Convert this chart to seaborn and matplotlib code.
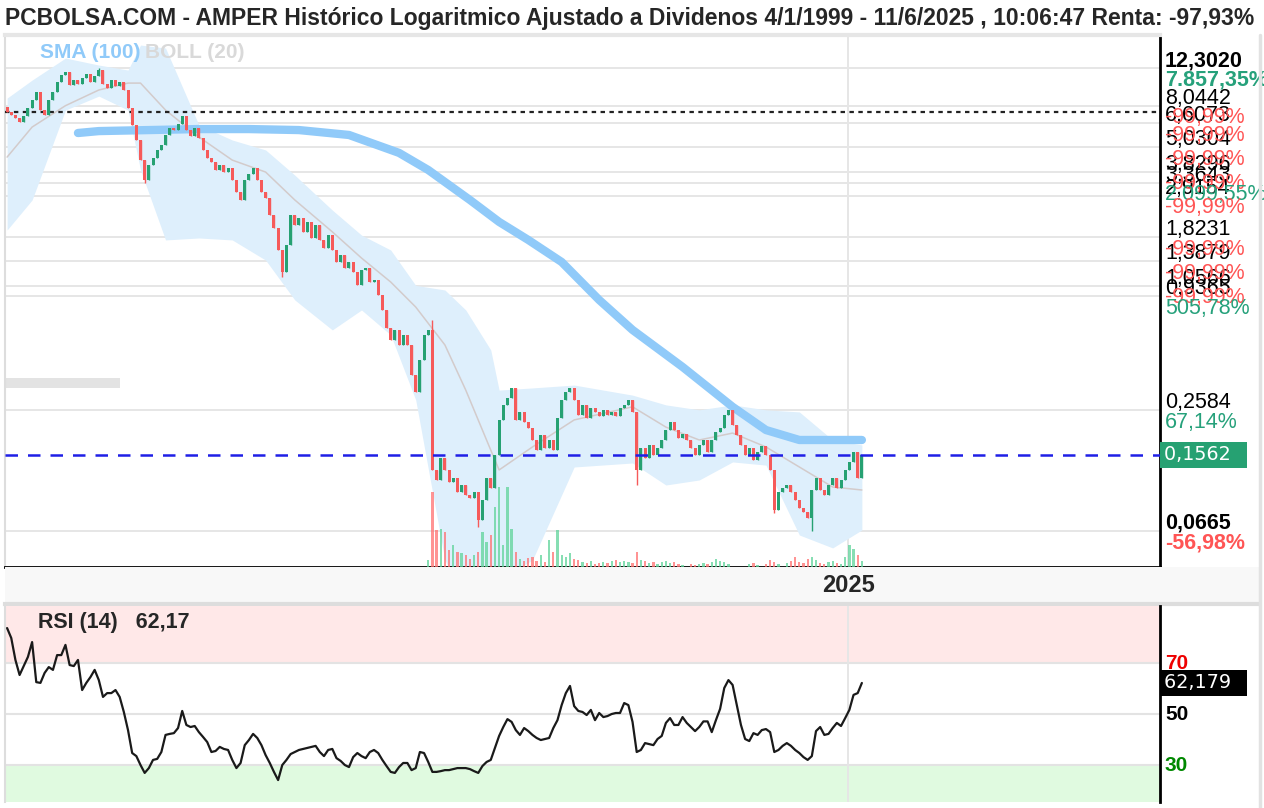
import matplotlib
matplotlib.use("Agg")
import numpy as np
import pandas as pd
import matplotlib.pyplot as plt
import matplotlib.transforms as mtransforms
from matplotlib.lines import Line2D
from matplotlib.patches import Rectangle
from matplotlib.ticker import NullLocator
import seaborn as sns

# ---- values (monthly candles, oldest first) ----
closes = [
    7.50, 7.25, 7.01, 6.70, 7.17, 7.85, 8.59, 9.40, 7.67, 7.25,
    8.59, 9.40, 10.52, 11.39, 11.78, 10.17, 10.76, 10.29, 11.01, 11.52,
    10.52, 11.26, 12.05, 10.29, 9.83, 10.76, 10.06, 10.52, 9.62, 7.85,
    6.48, 5.47, 4.36, 3.48, 4.12, 4.46, 4.89, 5.17, 5.79, 6.26,
    6.12, 6.55, 7.17, 6.12, 5.72, 6.26, 5.59, 4.89, 4.46, 4.27,
    3.90, 4.12, 3.81, 3.99, 3.48, 3.04, 2.78, 3.48, 3.73, 3.99,
    3.48, 3.04, 2.84, 2.35, 2.03, 1.58, 1.23, 1.67, 2.35, 2.10,
    2.27, 1.94, 2.17, 1.81, 2.10, 1.77, 1.62, 1.87, 1.58, 1.38,
    1.49, 1.29, 1.38, 1.23, 1.06, 1.26, 1.29, 1.10, 1.13, 0.951,
    0.803, 0.655, 0.573, 0.641, 0.541, 0.606, 0.541, 0.386, 0.318, 0.457,
    0.606, 0.641, 0.1319, 0.1178, 0.151, 0.1319, 0.1151, 0.1205, 0.1029, 0.1113,
    0.0995, 0.0961, 0.1029, 0.0750, 0.0940, 0.1205, 0.1076, 0.1562, 0.232, 0.275,
    0.297, 0.333, 0.232, 0.254, 0.227, 0.212, 0.185, 0.165, 0.196, 0.169,
    0.185, 0.165, 0.237, 0.291, 0.318, 0.333, 0.291, 0.246, 0.275, 0.237,
    0.266, 0.254, 0.243, 0.260, 0.246, 0.254, 0.243, 0.266, 0.275, 0.291,
    0.254, 0.1319, 0.169, 0.151, 0.175, 0.1562, 0.169, 0.185, 0.207, 0.227,
    0.207, 0.189, 0.198, 0.185, 0.169, 0.1562, 0.175, 0.185, 0.1616, 0.185,
    0.203, 0.212, 0.246, 0.260, 0.219, 0.196, 0.175, 0.1562, 0.169, 0.1476,
    0.1616, 0.173, 0.1562, 0.1319, 0.0839, 0.1029, 0.1076, 0.1113, 0.1029, 0.0940,
    0.0859, 0.0821, 0.0767, 0.1052, 0.1205, 0.1052, 0.0995, 0.1113, 0.1205, 0.1076,
    0.1178, 0.1319, 0.1444, 0.1616, 0.1205, 0.1562,
]
first_open = 7.95
wick_high = {22: 12.302, 102: 0.717}
wick_low = {33: 3.35, 66: 1.17, 113: 0.0694, 151: 0.111, 184: 0.081, 193: 0.0665}

volume = [0] * 101 + [
    7, 75, 37, 38, 35, 17, 22, 15, 14, 12,
    8, 12, 15, 35, 25, 32, 60, 80, 22, 80,
    38, 15, 8, 6, 9, 10, 6, 12, 5, 27,
    15, 37, 12, 10, 14, 8, 7, 5, 4, 6,
    3, 4, 5, 4, 6, 7, 5, 6, 5, 4,
    15, 7, 6, 4, 5, 3, 5, 6, 4, 5,
    3, 2, 0, 3, 2, 3, 4, 3, 5, 8,
    6, 5, 3, 0, 0, 0, 0, 3, 4, 2,
    0, 3, 7, 5, 3, 0, 4, 6, 10, 5,
    4, 8, 10, 7, 4, 3, 5, 6, 4, 3,
    10, 22, 18, 12, 6,
]

rsi = [
    83.7, 79.8, 71.2, 65.3, 68.8, 72.4, 78.2, 62.5, 62.2, 66.1,
    68.4, 67.3, 73.1, 73.1, 77.1, 69.2, 68.8, 71.2, 59.4, 62.2,
    64.5, 67.3, 63.3, 56.7, 58.2, 58.2, 59.4, 56.7, 50.8, 43.7,
    34.7, 33.5, 30.0, 26.9, 28.8, 32.0, 32.4, 35.1, 41.8, 42.2,
    42.5, 44.5, 51.2, 45.7, 44.9, 45.3, 42.9, 41.0, 39.0, 35.1,
    35.5, 37.1, 36.3, 35.9, 32.0, 28.8, 30.8, 37.8, 39.8, 42.2,
    40.6, 37.8, 33.9, 30.8, 27.3, 24.1, 30.0, 32.0, 34.3, 35.1,
    35.9, 36.3, 36.7, 37.1, 37.5, 35.1, 33.5, 35.9, 36.3, 32.7,
    31.6, 30.0, 29.2, 33.1, 34.7, 33.5, 32.7, 35.1, 35.9, 34.7,
    32.0, 29.6, 27.3, 26.9, 29.2, 30.8, 30.8, 28.0, 28.8, 35.1,
    34.7, 31.2, 27.3, 27.3, 27.6, 28.0, 28.0, 28.4, 28.8, 28.8,
    28.8, 28.4, 27.6, 26.9, 29.6, 31.2, 32.0, 36.7, 41.4, 44.9,
    48.0, 46.9, 43.7, 41.8, 44.5, 43.3, 41.8, 40.6, 39.8, 40.2,
    40.6, 44.5, 47.6, 53.5, 58.2, 61.0, 53.1, 51.2, 50.8, 49.6,
    51.6, 47.6, 50.4, 48.8, 49.2, 50.0, 50.4, 50.4, 54.3, 53.5,
    46.9, 35.1, 35.9, 38.6, 38.2, 37.8, 40.2, 41.4, 46.5, 48.4,
    45.7, 45.7, 48.8, 46.5, 44.9, 43.3, 44.9, 47.1, 47.1, 42.9,
    47.6, 52.0, 60.2, 63.3, 61.4, 53.5, 45.7, 40.2, 39.4, 42.5,
    41.8, 43.7, 44.1, 42.9, 35.1, 35.9, 37.5, 38.6, 37.5, 35.9,
    34.7, 33.1, 32.0, 33.5, 43.3, 44.9, 41.8, 42.2, 44.5, 46.5,
    45.3, 48.4, 51.6, 57.5, 58.2, 62.17,
]

# Bollinger (20) band, read at sample candles
band_idx = [0, 6, 14, 22, 29, 32, 38, 46, 54, 62, 69, 78, 85, 92, 98, 105, 110,
            116, 118, 126, 136, 150, 158, 166, 174, 182, 190, 198, 205]
band_up = [8.78, 10.76, 13.80, 12.75, 12.05, 15.98, 15.45, 6.48, 5.47, 4.89, 3.68,
           2.48, 1.87, 1.58, 1.06, 1.006, 0.803, 0.511, 0.325, 0.333, 0.344, 0.307,
           0.275, 0.260, 0.275, 0.260, 0.254, 0.185, 0.175]
band_mid = [4.51, 6.33, 8.06, 9.62, 10.40, 10.40, 7.67, 5.66, 4.36, 3.81, 2.78,
            1.94, 1.443, 1.101, 0.830, 0.541, 0.325, 0.165, 0.1319, 0.171, 0.232,
            0.269, 0.214, 0.185, 0.200, 0.171, 0.1364, 0.1088, 0.1052]
band_lo = [1.98, 2.78, 7.67, 8.98, 7.67, 3.90, 1.77, 1.81, 1.77, 1.41, 0.899,
           0.641, 0.803, 0.606, 0.291, 0.0477, 0.0305, 0.0305, 0.0381, 0.0477,
           0.1364, 0.1427, 0.1113, 0.1178, 0.1444, 0.1393, 0.0633, 0.0547, 0.0670]

# SMA (100)
sma_idx = [17, 22, 34, 46, 58, 70, 82, 94, 101, 111, 118, 125, 133, 142, 150,
           162, 174, 182, 190, 197, 205]
sma_vals = [5.92, 6.05, 6.12, 6.19, 6.19, 6.12, 5.79, 4.73, 3.90, 2.78, 2.17,
            1.77, 1.38, 0.899, 0.641, 0.422, 0.269, 0.207, 0.185, 0.185, 0.185]

# horizontal levels with their right-hand labels
level_values = [12.3020, 8.0442, 6.6073, 5.0304, 3.8296, 3.3643, 2.9154,
                1.8231, 1.3879, 1.0566, 0.9365, 0.2584, 0.0665]
level_labels = ["12,3020", "8,0442", "6,6073", "5,0304", "3,8296", "3,3643", "2,9154",
                "1,8231", "1,3879", "1,0566", "0,9365", "0,2584", "0,0665"]
level_pcts = ["7.857,35%", "-99,99%", "-99,99%", "-99,99%", "-99,99%", "2.099,55%",
              "-99,99%", "-99,99%", "-99,99%", "-99,99%", "505,78%", "67,14%", "-56,98%"]

start_price = 7.546
last_price = 0.1562
rsi_last = 62.179
year_tick = 201.7

title = ("PCBOLSA.COM - AMPER Histórico Logaritmico Ajustado a Dividenos "
         "4/1/1999 - 11/6/2025 , 10:06:47 Renta: -97,93%")

# ---- colours ----
GREEN = '#26a172'
RED = '#f65a5a'
TXT_GREEN = '#26a17b'
TXT_RED = '#ff5555'
BAND = '#deeffc'
MID = '#d3cbcb'
SMA = '#90caf9'
GRID = '#e6e6e6'
EDGE = '#dddddd'

sns.set_style('white')
plt.rcParams['font.family'] = ['Liberation Sans', 'DejaVu Sans']

W, H = 1264, 808
fig = plt.figure(figsize=(W / 100, H / 100), dpi=100)
fig.patch.set_facecolor('white')


def px_rect(x0, y0, x1, y1):
    return [x0 / W, 1 - y1 / H, (x1 - x0) / W, (y1 - y0) / H]


ax = fig.add_axes(px_rect(5, 35, 1160, 567))
ax_x = fig.add_axes(px_rect(5, 567, 1259, 604))
ax_r = fig.add_axes(px_rect(5, 606, 1160, 802))

n = len(closes)
df = pd.DataFrame({'idx': np.arange(n), 'close': closes, 'vol': volume, 'rsi': rsi})
df['open'] = [first_open] + closes[:-1]
df['high'] = df[['open', 'close']].max(axis=1)
df['low'] = df[['open', 'close']].min(axis=1)
for k, v in wick_high.items():
    df.loc[k, 'high'] = v
for k, v in wick_low.items():
    df.loc[k, 'low'] = v
up = df['close'] >= df['open']
colors = np.where(up, GREEN, RED)

XLIM = (-0.5, 276.5)

# ---- price panel ----
ax.set_yscale('log')
ax.set_xlim(*XLIM)
ax.set_ylim(0.0441, 17.9)

for lv in level_values:
    ax.axhline(lv, color=GRID, lw=1.4, zorder=0.5)
ax.axvline(year_tick, color=GRID, lw=1.4, zorder=0.5)

ax.fill_between(band_idx, band_lo, band_up, color=BAND, lw=0, zorder=1)
sns.lineplot(x=band_idx, y=band_mid, ax=ax, color=MID, lw=1.1, zorder=2)
sns.lineplot(x=sma_idx, y=sma_vals, ax=ax, color=SMA, lw=6, zorder=3,
             solid_capstyle='round')

ax.axhline(start_price, color='#222222', lw=1.6, ls=(0, (2, 2)), zorder=3.5)

body_lo = df[['open', 'close']].min(axis=1)
body_h = (df['close'] - df['open']).abs().clip(lower=body_lo * 0.015)
ax.vlines(df['idx'], df['low'], df['high'], colors=colors, lw=1, zorder=4)
ax.bar(df['idx'], body_h, bottom=body_lo, width=0.72, color=colors, lw=0, zorder=5)

ax.axhline(last_price, color='#1f1fe6', lw=1.8, ls=(0, (5, 4)), zorder=6)

ax.add_patch(Rectangle((0, 0.336), 0.0996, 0.019, transform=ax.transAxes,
                       color='#e3e3e3', lw=0, zorder=2))

ax.text(0.0303, 0.968, 'SMA (100)', transform=ax.transAxes, color=SMA,
        fontsize=15, fontweight='bold', va='center', ha='left', zorder=7)
ax.text(0.1212, 0.968, 'BOLL (20)', transform=ax.transAxes, color='#d9d9d9',
        fontsize=15, fontweight='bold', va='center', ha='left', zorder=7)

ax.set_xticks([])
ax.set_xlabel('')
ax.set_ylabel('')
ax.yaxis.set_major_locator(NullLocator())
ax.yaxis.set_minor_locator(NullLocator())
ax.spines['left'].set_color(EDGE)
ax.spines['left'].set_linewidth(1.5)
ax.spines['top'].set_color(GRID)
ax.spines['top'].set_linewidth(3)
ax.spines['right'].set_color('black')
ax.spines['right'].set_linewidth(2)
ax.spines['bottom'].set_color('black')
ax.spines['bottom'].set_linewidth(2)

# volume overlay
ax_v = ax.twinx()
vol_colors = np.where(up, '#5fd39a', '#ff7070')
ax_v.bar(df['idx'], df['vol'], width=0.55, color=vol_colors, alpha=0.75, lw=0)
ax_v.set_xlim(*XLIM)
ax_v.set_ylim(0, 532)
ax_v.axis('off')

# right-hand labels
trans = mtransforms.blended_transform_factory(ax.transAxes, ax.transData)
last = len(level_values) - 1
for i, (lv, lab) in enumerate(zip(level_values, level_labels)):
    ax.annotate(lab, xy=(1.0043, lv), xycoords=trans, xytext=(0, 1.5),
                textcoords='offset points', ha='left', va='baseline', fontsize=15.5,
                fontweight='bold' if i in (0, last) else 'normal', color='black',
                annotation_clip=False)
for i, (lv, pct) in enumerate(zip(level_values, level_pcts)):
    ax.annotate(pct, xy=(1.0043, lv), xycoords=trans, xytext=(0, -1),
                textcoords='offset points', ha='left', va='top', fontsize=15.5,
                fontweight='bold' if i in (0, last) else 'normal',
                color=TXT_RED if pct.startswith('-') else TXT_GREEN,
                annotation_clip=False)
ax.annotate('0,1562  ', xy=(1.0035, last_price), xycoords=trans, ha='left', va='center',
            fontsize=13.8, family='DejaVu Sans', color='white',
            bbox=dict(boxstyle='square,pad=0.2', fc=GREEN, ec='none'),
            annotation_clip=False)

# ---- date strip ----
ax_x.set_facecolor('#f8f8f8')
ax_x.set_xlim(XLIM[0], XLIM[0] + (XLIM[1] - XLIM[0]) * 1254 / 1155)
ax_x.set_ylim(0, 1)
ax_x.set_xticks([])
ax_x.set_yticks([])
for s in ('top', 'left', 'right'):
    ax_x.spines[s].set_visible(False)
ax_x.spines['bottom'].set_color(EDGE)
ax_x.spines['bottom'].set_linewidth(3)
ax_x.text(year_tick, 0.5, '2025', ha='center', va='center', fontsize=17,
          fontweight='bold')

# ---- RSI panel ----
ax_r.set_xlim(*XLIM)
ax_r.set_ylim(15.5, 92.35)
ax_r.axhspan(70, 100, color='#ffe8e8', lw=0, zorder=0)
ax_r.axhspan(0, 30, color='#e0fae0', lw=0, zorder=0)
for lv in (70, 50, 30):
    ax_r.axhline(lv, color='#e3e3e3', lw=1.5, zorder=0.5)
ax_r.axvline(year_tick, color=GRID, lw=1.4, zorder=0.5)
sns.lineplot(x=df['idx'], y=df['rsi'], ax=ax_r, color='#1a1a1a', lw=1.6, zorder=3)
ax_r.set_xlabel('')
ax_r.set_ylabel('')
ax_r.set_xticks([])
ax_r.set_yticks([])
ax_r.spines['top'].set_visible(False)
ax_r.spines['bottom'].set_visible(False)
ax_r.spines['left'].set_color(EDGE)
ax_r.spines['left'].set_linewidth(1.5)
ax_r.spines['right'].set_color('black')
ax_r.spines['right'].set_linewidth(2)

ax_r.text(0.0286, 0.918, 'RSI (14)   62,17', transform=ax_r.transAxes, fontsize=15.5,
          fontweight='bold', va='center', ha='left')
trans_r = mtransforms.blended_transform_factory(ax_r.transAxes, ax_r.transData)
for lv, c in ((70, '#ee0000'), (50, 'black'), (30, '#008800')):
    ax_r.text(1.0043, lv, str(lv), transform=trans_r, color=c, fontsize=15,
              fontweight='bold', va='center', ha='left', clip_on=False)
ax_r.annotate('62,179  ', xy=(1.0035, rsi_last), xycoords=trans_r, ha='left',
              va='center', fontsize=13.8, family='DejaVu Sans', color='white',
              bbox=dict(boxstyle='square,pad=0.2', fc='black', ec='none'),
              annotation_clip=False)

# ---- title and frame ----
fig.text(5 / W, 1 - 18 / H, title, fontsize=16.5, fontweight='bold',
         va='center', ha='left')
fig.add_artist(Line2D([1259.5 / W] * 2, [0, 1 - 35 / H], color='#e2e2e2', lw=2.5))

fig.savefig('out.png', dpi=100, facecolor='white')
